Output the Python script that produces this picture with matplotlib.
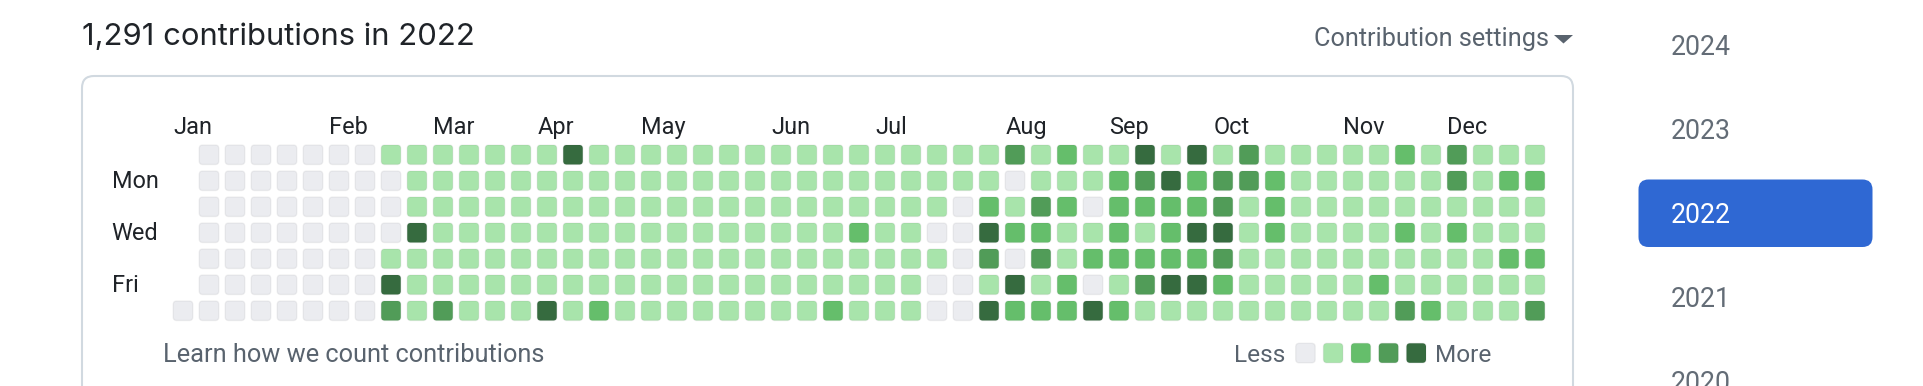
import matplotlib
matplotlib.use("Agg")
import matplotlib.pyplot as plt
from matplotlib.patches import FancyBboxPatch, Polygon

# contribution level (0-4) per week column, one list per weekday
# None = day outside 2022 (the first column only holds Sat Jan 1)
N = None
sun = [N, 0, 0, 0, 0, 0, 0, 0, 1, 1, 1, 1, 1, 1, 1, 4, 1, 1, 1, 1, 1, 1, 1, 1, 1, 1, 1, 1, 1, 1, 1, 1,
       3, 1, 2, 1, 1, 4, 1, 4, 1, 3, 1, 1, 1, 1, 1, 2, 1, 3, 1, 1, 1]
mon = [N, 0, 0, 0, 0, 0, 0, 0, 0, 1, 1, 1, 1, 1, 1, 1, 1, 1, 1, 1, 1, 1, 1, 1, 1, 1, 1, 1, 1, 1, 1, 1,
       0, 1, 1, 1, 2, 3, 4, 2, 3, 3, 2, 1, 1, 1, 1, 1, 1, 3, 1, 2, 2]
tue = [N, 0, 0, 0, 0, 0, 0, 0, 0, 1, 1, 1, 1, 1, 1, 1, 1, 1, 1, 1, 1, 1, 1, 1, 1, 1, 1, 1, 1, 1,
       0, 2, 1, 3, 2, 0, 2, 2, 2, 2, 3, 1, 2, 1, 1, 1, 1, 1, 1, 1, 1, 1, 1]
wed = [N, 0, 0, 0, 0, 0, 0, 0, 0, 4, 1, 1, 1, 1, 1, 1, 1, 1, 1, 1, 1, 1, 1, 1, 1, 1,
       2, 1, 1, 0, 0, 4, 2, 2, 1, 1, 2, 1, 2, 4, 4, 1, 2, 1, 1, 1, 1, 2, 1, 2, 1, 1, 1]
thu = [N, 0, 0, 0, 0, 0, 0, 0, 1, 1, 1, 1, 1, 1, 1, 1, 1, 1, 1, 1, 1, 1, 1, 1, 1, 1, 1, 1, 1, 1,
       0, 3, 0, 3, 1, 2, 2, 2, 2, 2, 3, 1, 1, 1, 1, 1, 1, 1, 1, 1, 1, 2, 2]
fri = [N, 0, 0, 0, 0, 0, 0, 0, 4, 1, 1, 1, 1, 1, 1, 1, 1, 1, 1, 1, 1, 1, 1, 1, 1, 1, 1, 1, 1,
       0, 0, 1, 4, 1, 2, 0, 1, 3, 4, 4, 2, 1, 1, 1, 1, 1, 2, 1, 1, 1, 1, 1, 1]
sat = [0, 0, 0, 0, 0, 0, 0, 0, 3, 1, 3, 1, 1, 1, 4, 1, 2, 1, 1, 1, 1, 1, 1, 1, 1, 2, 1, 1, 1,
       0, 0, 4, 2, 2, 2, 4, 2, 1, 1, 1, 1, 1, 1, 1, 1, 1, 1, 3, 2, 1, 1, 1, 3]
levels = [sun, mon, tue, wed, thu, fri, sat]

month_labels = ['Jan', 'Feb', 'Mar', 'Apr', 'May', 'Jun', 'Jul', 'Aug', 'Sep', 'Oct', 'Nov', 'Dec']
month_cols = [0, 6, 10, 14, 18, 23, 27, 32, 36, 40, 45, 49]
day_labels = ['Mon', 'Wed', 'Fri']
day_rows = [1, 3, 5]
years = ['2024', '2023', '2022', '2021', '2020']
selected_year = '2022'
title = '1,291 contributions in 2022'

palette = ['#ebecf0', '#a8e4ab', '#65be6b', '#519c58', '#366b3f']
txt_dark = '#1f2328'
txt_muted = '#59636e'

plt.rcParams['font.family'] = ['Roboto', 'DejaVu Sans']

W, H = 1924, 386
fig = plt.figure(figsize=(W / 100, H / 100), dpi=100)
fig.patch.set_facecolor('white')

# background axes in pixel units for the page chrome
bg = fig.add_axes([0, 0, 1, 1])
bg.set_xlim(0, W)
bg.set_ylim(H, 0)
bg.axis('off')

bg.text(82, 45, title, fontsize=22.3, color=txt_dark, va='baseline', ha='left',
        family=['Inter', 'DejaVu Sans'])
bg.text(1314, 46, 'Contribution settings', fontsize=18.2, color=txt_muted, va='baseline', ha='left')
bg.add_patch(Polygon([(1554, 35), (1573, 35), (1563.5, 43.5)], closed=True,
                     fc=txt_muted, ec='none'))

# card around the calendar
bg.add_patch(FancyBboxPatch((82, 76), 1573 - 82, 420, boxstyle='round,pad=0,rounding_size=12',
                            fc='white', ec='#d1d9e0', lw=1.5))

# year switcher
for k, yr in enumerate(years):
    yb = 55 + 84 * k
    if yr == selected_year:
        bg.add_patch(FancyBboxPatch((1638.5, yb - 43.5), 234, 67.5,
                                    boxstyle='round,pad=0,rounding_size=10',
                                    fc='#2f68d3', ec='none'))
        col = 'white'
    else:
        col = '#636c76'
    bg.text(1671, yb, yr, fontsize=19.2, color=col, va='baseline', ha='left')

bg.text(163, 362, 'Learn how we count contributions', fontsize=18.3, color=txt_muted,
        va='baseline', ha='left')

# legend swatches
bg.text(1285, 362, 'Less', fontsize=17.6, color=txt_muted, va='baseline', ha='right')
for k, c in enumerate(palette):
    x0 = 1295.7 + 27.7 * k
    bg.add_patch(FancyBboxPatch((x0, 343.3), 19.5, 19.5, boxstyle='round,pad=0,rounding_size=3.5',
                                fc=c, ec=(0.12, 0.14, 0.16, 0.06), lw=1.0))
bg.text(1435.5, 362, 'More', fontsize=17.6, color=txt_muted, va='baseline', ha='left')

# calendar grid, one data unit = one cell pitch (26 px)
ax = fig.add_axes([170 / W, 1 - 323.75 / H, 1378 / W, 182 / H])
ax.set_xlim(-0.5, 52.5)
ax.set_ylim(6.5, -0.5)
ax.axis('off')

cell = 0.75
for i, row in enumerate(levels):
    for j, v in enumerate(row):
        if v is None:
            continue
        ax.add_patch(FancyBboxPatch((j - cell / 2, i - cell / 2), cell, cell,
                                    boxstyle='round,pad=0,rounding_size=0.13',
                                    fc=palette[v], ec=(0.12, 0.14, 0.16, 0.06), lw=1.0))

for lab, c in zip(month_labels, month_cols):
    ax.text(c - cell / 2, -0.79, lab, fontsize=16.9, color=txt_dark, va='baseline', ha='left')

for lab, r in zip(day_labels, day_rows):
    ax.text(-2.74, r + 0.29, lab, fontsize=16.9, color=txt_dark, va='baseline', ha='left')

fig.savefig('out.png', dpi=100, facecolor='white')
